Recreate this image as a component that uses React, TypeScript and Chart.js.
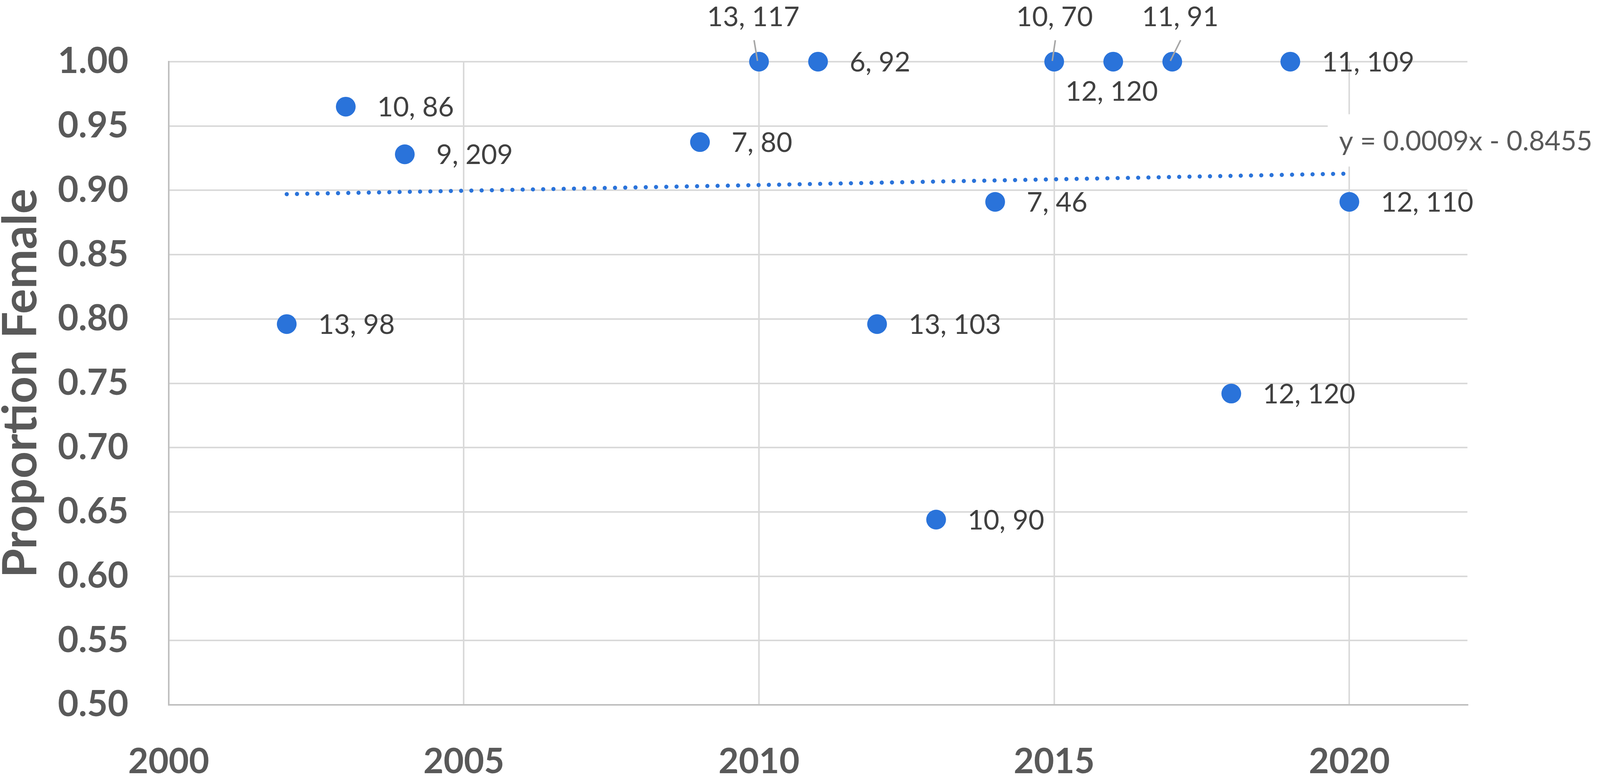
import React, { useEffect, useRef } from 'react';
import { Chart, registerables } from 'chart.js';

Chart.register(...registerables);

// ---- data ----
const years = [2002, 2003, 2004, 2009, 2010, 2011, 2012, 2013, 2014, 2015, 2016, 2017, 2018, 2019, 2020];
const proportionFemale = [0.796, 0.965, 0.928, 0.9375, 1.0, 1.0, 0.796, 0.644, 0.891, 1.0, 1.0, 1.0, 0.742, 1.0, 0.891];
const labelFirst = [13, 10, 9, 7, 13, 6, 13, 10, 7, 10, 12, 11, 12, 11, 12];
const labelSecond = [98, 86, 209, 80, 117, 92, 103, 90, 46, 70, 120, 91, 120, 109, 110];

const xTickValues = [2000, 2005, 2010, 2015, 2020];
const yTickValues = [0.5, 0.55, 0.6, 0.65, 0.7, 0.75, 0.8, 0.85, 0.9, 0.95, 1.0];

const trendYears = [2002, 2020];
const trendValues = [0.897, 0.913];
const trendEquation = 'y = 0.0009x - 0.8455';

const yAxisTitle = 'Proportion Female';

// ---- styling (design size 4212 x 2000) ----
const DESIGN_W = 4212;
const DESIGN_H = 2000;
const BLUE = '#2A73DA';
const FONT = 'Lato, "Open Sans", "DejaVu Sans", sans-serif';
const AXIS_GRAY = '#595959';
const LABEL_GRAY = '#404040';
const GRID = '#D9D9D9';

type Placement = {
  dx: number;
  dy: number;
  align: CanvasTextAlign;
  leader?: [number, number, number, number];
};

const RIGHT: Placement = { dx: 83, dy: 0, align: 'left' };
const placementOverrides: Record<number, Placement> = {
  4: { dx: -15, dy: -116, align: 'center', leader: [-13, -55, -4, -2] },
  9: { dx: 1, dy: -116, align: 'center', leader: [3, -55, -5, -2] },
  10: { dx: -4, dy: 75, align: 'center' },
  11: { dx: 21, dy: -116, align: 'center', leader: [22, -55, -5, -2] },
};

function makeLabelPlugin(sx: number, sy: number, sf: number) {
  const labelSize = 72 * sf;
  const cap = labelSize * 0.717;
  return {
    id: 'pointLabels',
    afterDatasetsDraw(chart: any) {
      const ctx: CanvasRenderingContext2D = chart.ctx;
      ctx.save();

      // trendline equation label with white background
      const tMeta = chart.getDatasetMeta(1);
      const end = tMeta.data[tMeta.data.length - 1];
      if (end) {
        ctx.font = `400 ${labelSize}px ${FONT}`;
        const w = ctx.measureText(trendEquation).width;
        const left = end.x - 27 * sx;
        const cy = end.y - 85 * sy;
        ctx.fillStyle = '#FFFFFF';
        ctx.fillRect(left - 30 * sx, cy - 67 * sy, w + 40 * sx, 134 * sy);
        ctx.fillStyle = AXIS_GRAY;
        ctx.textAlign = 'left';
        ctx.textBaseline = 'alphabetic';
        ctx.fillText(trendEquation, left, cy + cap / 2);
      }

      const meta = chart.getDatasetMeta(0);
      ctx.font = `400 ${labelSize}px ${FONT}`;
      ctx.textBaseline = 'alphabetic';
      meta.data.forEach((pt: any, i: number) => {
        const p = placementOverrides[i] ?? RIGHT;
        if (p.leader) {
          ctx.strokeStyle = '#A6A6A6';
          ctx.lineWidth = 4 * sf;
          ctx.beginPath();
          ctx.moveTo(pt.x + p.leader[0] * sx, pt.y + p.leader[1] * sy);
          ctx.lineTo(pt.x + p.leader[2] * sx, pt.y + p.leader[3] * sy);
          ctx.stroke();
        }
        ctx.fillStyle = LABEL_GRAY;
        ctx.textAlign = p.align;
        ctx.fillText(`${labelFirst[i]}, ${labelSecond[i]}`, pt.x + p.dx * sx, pt.y + p.dy * sy + cap / 2);
      });
      ctx.restore();
    },
  };
}

export default function App() {
  const canvasRef = useRef<HTMLCanvasElement | null>(null);
  const W = typeof window !== 'undefined' && window.innerWidth ? window.innerWidth : DESIGN_W;
  const H = typeof window !== 'undefined' && window.innerHeight ? window.innerHeight : DESIGN_H;

  useEffect(() => {
    if (!canvasRef.current) return;
    const sx = W / DESIGN_W;
    const sy = H / DESIGN_H;
    const sf = Math.min(sx, sy);

    const chart = new Chart(canvasRef.current, {
      type: 'scatter',
      data: {
        datasets: [
          {
            label: 'Proportion Female',
            data: years.map((x, i) => ({ x, y: proportionFemale[i] })),
            backgroundColor: BLUE,
            borderColor: BLUE,
            pointRadius: 26 * sf,
            pointHoverRadius: 26 * sf,
            pointBorderWidth: 0,
            clip: false as any,
            order: 1,
          },
          {
            type: 'line' as any,
            label: 'Trend',
            data: trendYears.map((x, i) => ({ x, y: trendValues[i] })),
            borderColor: BLUE,
            backgroundColor: BLUE,
            borderWidth: 11 * sf,
            borderDash: [0.01, 27 * sf],
            borderCapStyle: 'round',
            pointRadius: 0,
            showLine: true,
            fill: false,
            clip: false as any,
            order: 2,
          } as any,
        ],
      },
      options: {
        animation: false,
        responsive: false,
        devicePixelRatio: 1,
        layout: { padding: { top: 155 * sy, right: 349 * sx, left: 0, bottom: 0 } },
        plugins: {
          legend: { display: false },
          tooltip: { enabled: false },
          title: { display: false },
        },
        scales: {
          x: {
            type: 'linear',
            min: 2000,
            max: 2022,
            afterBuildTicks: (scale: any) => {
              scale.ticks = xTickValues.map((v) => ({ value: v }));
            },
            afterFit: (scale: any) => {
              scale.height = 195 * sy;
            },
            grid: { color: GRID, lineWidth: 4 * sf, drawTicks: false },
            border: { color: '#BFBFBF', width: 4 * sf },
            ticks: {
              padding: 92 * sy,
              color: AXIS_GRAY,
              font: { family: FONT, size: 92 * sf, weight: 'bold' },
              callback: (v: any) => String(v),
              maxRotation: 0,
              autoSkip: false,
            },
          },
          y: {
            type: 'linear',
            min: 0.5,
            max: 1.0,
            afterBuildTicks: (scale: any) => {
              scale.ticks = yTickValues.map((v) => ({ value: v }));
            },
            afterFit: (scale: any) => {
              scale.width = 444 * sx;
            },
            grid: { color: GRID, lineWidth: 4 * sf, drawTicks: false },
            border: { color: '#BFBFBF', width: 4 * sf },
            ticks: {
              padding: 106 * sx,
              color: AXIS_GRAY,
              font: { family: FONT, size: 94 * sf, weight: 'bold' },
              callback: (v: any) => Number(v).toFixed(2),
              autoSkip: false,
            },
            title: {
              display: true,
              text: yAxisTitle,
              color: AXIS_GRAY,
              font: { family: FONT, size: 124 * sf, weight: 'bold', lineHeight: 0.9 },
              padding: 0,
            },
          },
        },
      },
      plugins: [makeLabelPlugin(sx, sy, sf)],
    });
    return () => chart.destroy();
  }, [W, H]);

  return (
    <div style={{ position: 'absolute', left: 0, top: 0, width: W, height: H, overflow: 'hidden', background: '#FFFFFF' }}>
      <canvas ref={canvasRef} width={W} height={H} style={{ display: 'block' }} />
    </div>
  );
}
